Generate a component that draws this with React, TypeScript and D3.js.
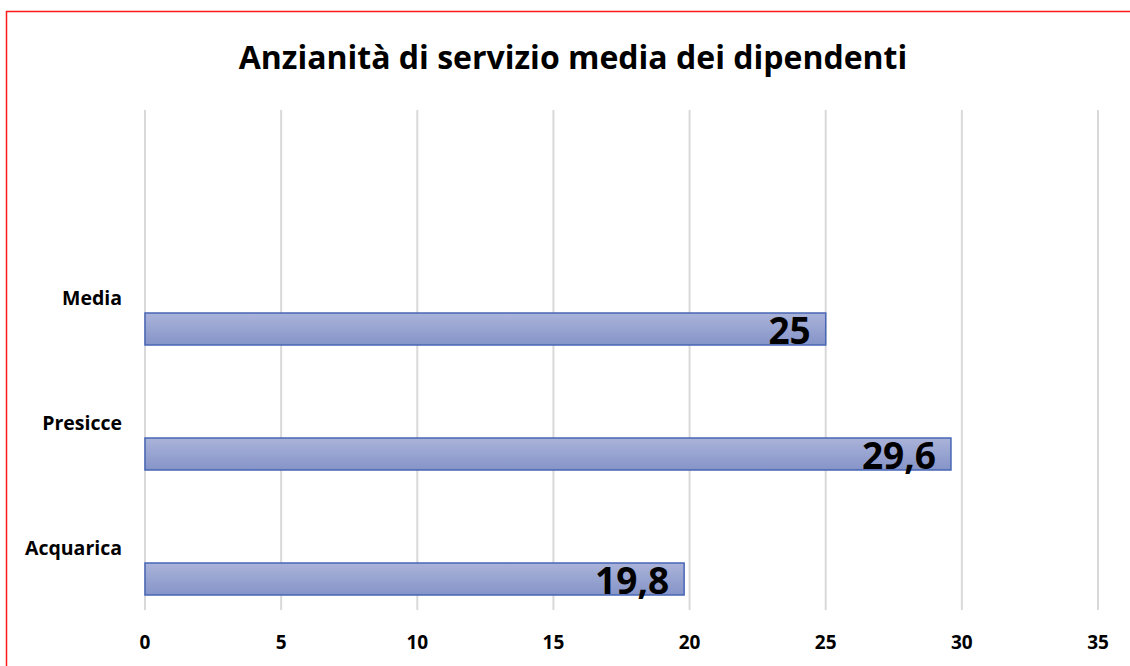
import React, { useRef, useEffect } from 'react';
import * as d3 from 'd3';

// top to bottom; the first band is empty, like in the original sheet
const categories = ['', 'Media', 'Presicce', 'Acquarica'];
const values = [null, 25, 29.6, 19.8];
const valueLabels = ['', '25', '29,6', '19,8'];
const xTicks = [0, 5, 10, 15, 20, 25, 30, 35];
const title = 'Anzianità di servizio media dei dipendenti';

const W = 1130;
const H = 666;
const font = '"Open Sans", "Noto Sans", sans-serif';

const App = () => {
  const svgRef = useRef<SVGSVGElement>(null);

  useEffect(() => {
    const svg = d3.select(svgRef.current);
    svg.selectAll('*').remove();

    const left = 145, right = 1098, top = 110, bottom = 610;

    const x = d3.scaleLinear().domain([0, 35]).range([left, right]);
    const y = d3.scaleBand().domain(categories).range([top, bottom]);

    const defs = svg.append('defs');
    const grad = defs.append('linearGradient')
      .attr('id', 'barGrad')
      .attr('x1', 0).attr('y1', 0).attr('x2', 0).attr('y2', 1);
    grad.append('stop').attr('offset', '0%').attr('stop-color', '#aab3d9');
    grad.append('stop').attr('offset', '100%').attr('stop-color', '#8594c8');

    svg.append('rect')
      .attr('width', W).attr('height', H).attr('fill', '#fff');

    // red frame
    svg.append('rect')
      .attr('x', 6.5).attr('y', 11.5)
      .attr('width', W + 20).attr('height', H + 20)
      .attr('fill', 'none')
      .attr('stroke', '#ff1a1a')
      .attr('stroke-width', 1.5);

    svg.append('text')
      .attr('x', (238 + 908) / 2)
      .attr('y', 69)
      .attr('text-anchor', 'middle')
      .attr('font-family', font)
      .attr('font-weight', 700)
      .attr('font-size', 32)
      .attr('fill', '#000')
      .text(title);

    svg.append('g')
      .selectAll('line')
      .data(xTicks)
      .enter()
      .append('line')
      .attr('x1', d => x(d)).attr('x2', d => x(d))
      .attr('y1', top).attr('y2', bottom)
      .attr('stroke', '#d9d9d9')
      .attr('stroke-width', 2);

    svg.append('g')
      .selectAll('text')
      .data(xTicks)
      .enter()
      .append('text')
      .attr('x', d => x(d))
      .attr('y', 649)
      .attr('text-anchor', 'middle')
      .attr('font-family', font)
      .attr('font-weight', 700)
      .attr('font-size', 19)
      .attr('fill', '#000')
      .text(d => d);

    const bw = y.bandwidth();
    const barTop = bw * 0.624;
    const barH = bw * 0.256;

    svg.append('g')
      .selectAll('text')
      .data(categories)
      .enter()
      .append('text')
      .attr('x', 122)
      .attr('y', d => (y(d) as number) + bw / 2 + 7)
      .attr('text-anchor', 'end')
      .attr('font-family', font)
      .attr('font-weight', 700)
      .attr('font-size', 19.5)
      .attr('fill', '#000')
      .text(d => d);

    const rows = categories
      .map((c, i) => ({ c, v: values[i], label: valueLabels[i] }))
      .filter(d => d.v !== null);

    svg.append('g')
      .selectAll('rect')
      .data(rows)
      .enter()
      .append('rect')
      .attr('x', x(0))
      .attr('y', d => (y(d.c) as number) + barTop)
      .attr('width', d => x(d.v as number) - x(0))
      .attr('height', barH)
      .attr('fill', 'url(#barGrad)')
      .attr('stroke', '#4766b5')
      .attr('stroke-width', 1.5);

    svg.append('g')
      .selectAll('text')
      .data(rows)
      .enter()
      .append('text')
      .attr('x', d => x(d.v as number) - 15)
      .attr('y', d => (y(d.c) as number) + barTop + barH - 1)
      .attr('text-anchor', 'end')
      .attr('font-family', font)
      .attr('font-weight', 700)
      .attr('font-size', 37)
      .attr('fill', '#000')
      .text(d => d.label);
  }, []);

  return (
    <svg ref={svgRef} width={W} height={H}
      style={{ position: 'absolute', left: 0, top: 0, display: 'block' }} />
  );
};

export default App;
